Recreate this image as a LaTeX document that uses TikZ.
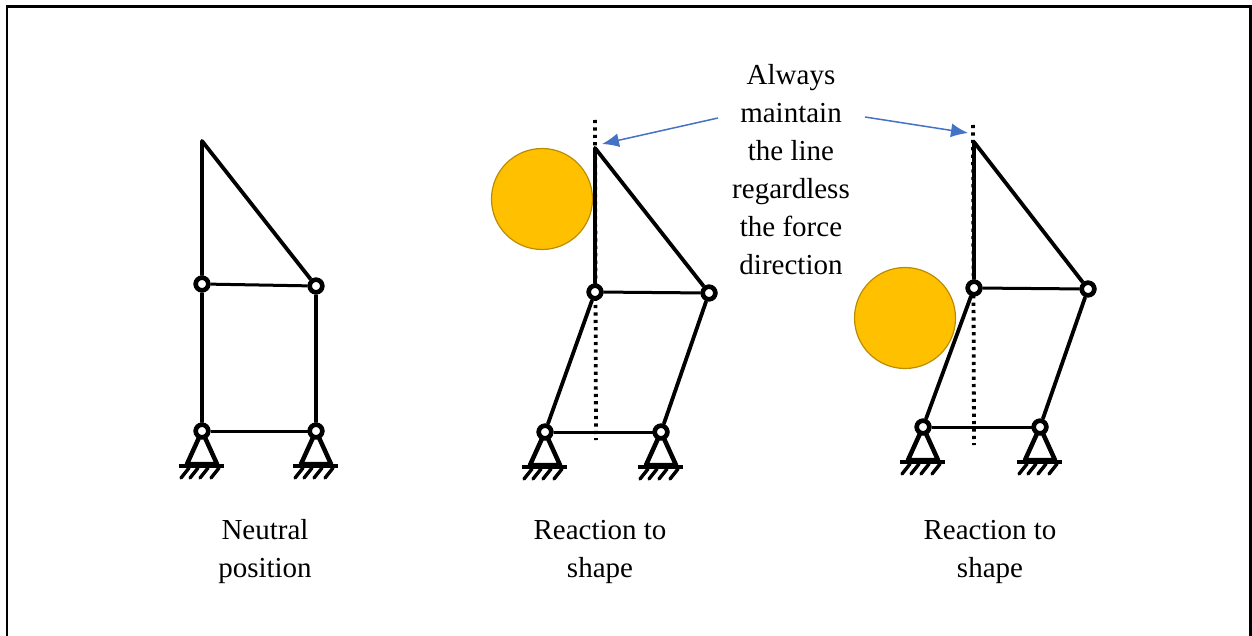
\documentclass[tikz,border=0pt]{standalone}
\usepackage{xcolor}
\usepackage{fontspec}
\setmainfont{Liberation Serif}
\usetikzlibrary{arrows.meta, positioning}
\definecolor{ballfill}{HTML}{FFC000}
\definecolor{ballline}{HTML}{BC8C00}
\definecolor{notearrow}{HTML}{4472C4}

\begin{document}
\begin{tikzpicture}[x=1pt, y=-1pt,
  pin/.style={circle, draw, fill=white, line width=4.5pt, inner sep=0pt, minimum size=12.5pt},
  bar/.style={line width=3.8pt, line join=round},
  rung/.style={line width=3pt},
  plumb/.style={line width=3.8pt, dash pattern=on 3.2pt off 4.2pt},
  ball/.style={circle, draw=ballline, line width=1.2pt, fill=ballfill, minimum size=101pt, inner sep=0pt},
  note/.style={-{Latex[length=17pt, width=14pt]}, notearrow, line width=1.5pt},
  lbl/.style={align=center, font=\fontsize{29}{38}\selectfont, inner sep=0pt},
  support/.pic={
    \draw[line width=4.5pt, line join=round] (0,0) -- (-15,33) -- (15,33) -- cycle;
    \draw[line width=3.4pt] (-23,35) -- (22,35);
    \foreach \xh in {-13,-4,6,17}
      \draw[line width=3.4pt, line cap=round] (\xh,37) -- (\xh-8,47);
  }
]
\useasboundingbox (0,0) rectangle (1252,636);
\draw[line width=2.6pt] (7,636) -- (7,6.5) -- (1250.5,6.5) -- (1250.5,636);

% neutral position
\coordinate (tipA) at (202,141);
\node[pin] (a1) at (202,284) {};
\node[pin] (a2) at (316,286) {};
\node[pin] (a3) at (202,431) {};
\node[pin] (a4) at (316,431) {};
\draw[bar] (a3) -- (a1) -- (tipA) -- (a2) -- (a4);
\draw[rung] (a1) -- (a2);
\draw[rung] (a3) -- (a4);
\pic at (a3) {support};
\pic at (a4) {support};
\node[pin] at (a1) {};
\node[pin] at (a2) {};
\node[pin] at (a3) {};
\node[pin] at (a4) {};

% reaction, ball at the top
\node[ball] (ballB) at (542,199) {};
\coordinate (tipB) at (595,148);
\coordinate (topB) at (595,120);
\coordinate (endB) at (596,440);
\node[pin] (b1) at (595,292) {};
\node[pin] (b2) at (709,293) {};
\node[pin] (b3) at (545,432) {};
\node[pin] (b4) at (661,432) {};
\draw[plumb] (topB) -- (endB);
\draw[bar] (b3) -- (b1) -- (tipB) -- (b2) -- (b4);
\draw[rung] (b1) -- (b2);
\draw[rung] (b3) -- (b4);
\pic at (b3) {support};
\pic at (b4) {support};
\node[pin] at (b1) {};
\node[pin] at (b2) {};
\node[pin] at (b3) {};
\node[pin] at (b4) {};

% reaction, ball at the bottom
\node[ball] (ballC) at (905,318) {};
\coordinate (tipC) at (974,142);
\coordinate (topC) at (973,125);
\coordinate (endC) at (974,445);
\node[pin] (c1) at (974,288) {};
\node[pin] (c2) at (1088,289) {};
\node[pin] (c3) at (923,427) {};
\node[pin] (c4) at (1040,427) {};
\draw[plumb] (topC) -- (endC);
\draw[bar] (c3) -- (c1) -- (tipC) -- (c2) -- (c4);
\draw[rung] (c1) -- (c2);
\draw[rung] (c3) -- (c4);
\pic at (c3) {support};
\pic at (c4) {support};
\node[pin] at (c1) {};
\node[pin] at (c2) {};
\node[pin] at (c3) {};
\node[pin] at (c4) {};

% labels
\node[lbl] (neutral) at (265,552) {Neutral\\position};
\node[lbl] (shapeB) at (600,552) {Reaction to\\shape};
\node[lbl] (shapeC) at (990,552) {Reaction to\\shape};
\node[lbl] (always) at (791,170) {Always\\maintain\\the line\\regardless\\the force\\direction};

\coordinate (fromB) at (718,118);
\coordinate (toB) at (602,144);
\coordinate (fromC) at (865,117);
\coordinate (toC) at (968,133);
\draw[note] (fromB) -- (toB);
\draw[note] (fromC) -- (toC);
\end{tikzpicture}
\end{document}
